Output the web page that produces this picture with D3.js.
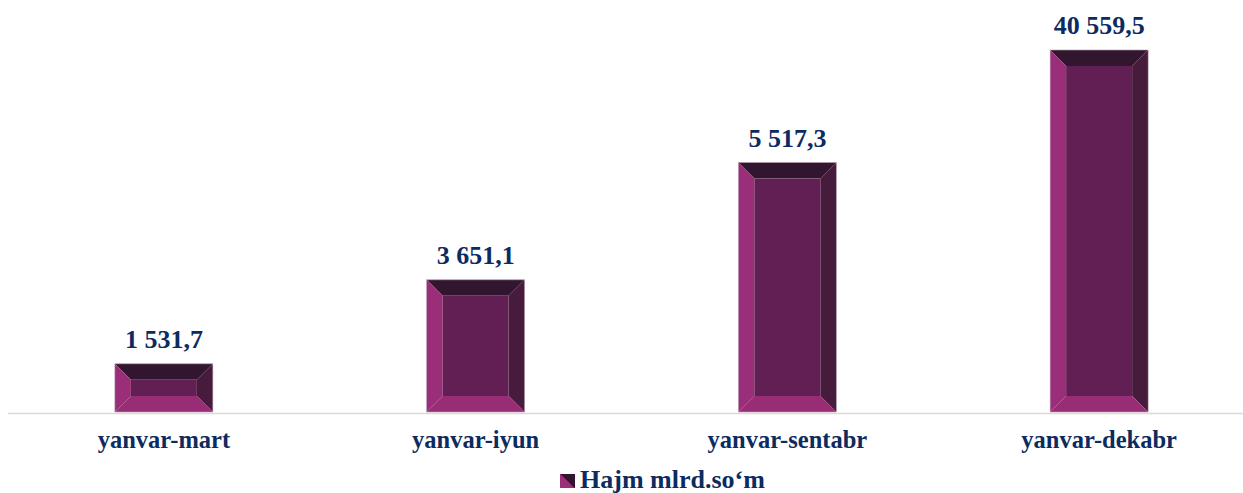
<!DOCTYPE html>
<html>
<head>
<meta charset="utf-8">
<script src="https://cdn.jsdelivr.net/npm/d3@7"></script>
<style>
  body { margin: 0; background: #fff; }
  svg { display: block; }
</style>
</head>
<body>
<svg id="chart"></svg>
<script>
'use strict';

// periods on the x axis
var categories = ['yanvar-mart', 'yanvar-iyun', 'yanvar-sentabr', 'yanvar-dekabr'];
// printed data labels
var valueLabels = ['1 531,7', '3 651,1', '5 517,3', '40 559,5'];
// bar heights as drawn in the source (% of the tallest bar, bars are not to scale with labels)
var barLevels = [13.3, 36.5, 68.9, 100];
var seriesName = 'Hajm mlrd.so‘m';

var width = 1243;
var height = 493;
var baseY = 412;
var topY = 50;
var bevel = 16;
var font = '"Liberation Serif", "Times New Roman", serif';
var ink = '#0c2b5f';

var colors = {
  left: '#9b2e78',
  top: '#321630',
  right: '#461b3b',
  bottom: '#982d76',
  face: '#621f53'
};

var svg = d3.select('#chart')
  .attr('width', width)
  .attr('height', height);

var x = d3.scaleBand()
  .domain(categories)
  .range([8, 1255])
  .paddingInner(0)
  .paddingOuter(0);

var y = d3.scaleLinear()
  .domain([0, 100])
  .range([baseY, topY]);

var barW = 98;

// axis line
svg.append('line')
  .attr('x1', 8)
  .attr('x2', width)
  .attr('y1', baseY + 1.5)
  .attr('y2', baseY + 1.5)
  .attr('stroke', '#d9d9d9')
  .attr('stroke-width', 1.5);

var bars = svg.selectAll('g.bar')
  .data(categories)
  .enter().append('g')
  .attr('class', 'bar');

bars.each(function(cat, i) {
  var g = d3.select(this);
  var x0 = x(cat) + x.bandwidth() / 2 - barW / 2;
  var x1 = x0 + barW;
  var y0 = y(barLevels[i]);
  var y1 = y(0);
  var b = Math.min(bevel, (y1 - y0) / 2 - 1);

  function poly(pts, fill) {
    g.append('polygon')
      .attr('points', pts.map(function(p) { return p.join(','); }).join(' '))
      .attr('fill', fill);
  }

  poly([[x0, y0], [x1, y0], [x1 - b, y0 + b], [x0 + b, y0 + b]], colors.top);
  poly([[x0, y0], [x0 + b, y0 + b], [x0 + b, y1 - b], [x0, y1]], colors.left);
  poly([[x1, y0], [x1, y1], [x1 - b, y1 - b], [x1 - b, y0 + b]], colors.right);
  poly([[x0, y1], [x0 + b, y1 - b], [x1 - b, y1 - b], [x1, y1]], colors.bottom);
  g.append('rect')
    .attr('x', x0 + b)
    .attr('y', y0 + b)
    .attr('width', barW - 2 * b)
    .attr('height', y1 - y0 - 2 * b)
    .attr('fill', colors.face);
  g.append('rect')
    .attr('x', x0)
    .attr('y', y0)
    .attr('width', barW)
    .attr('height', y1 - y0)
    .attr('fill', 'none')
    .attr('stroke', '#b89cb4')
    .attr('stroke-width', 0.6);

  g.append('text')
    .attr('x', x0 + barW / 2)
    .attr('y', y0 - 16)
    .attr('text-anchor', 'middle')
    .attr('font-family', font)
    .attr('font-weight', 'bold')
    .attr('fill', ink)
    .attr('font-size', 26)
    .text(valueLabels[i]);
});

// category labels
svg.selectAll('text.cat')
  .data(categories)
  .enter().append('text')
  .attr('class', 'cat')
  .attr('x', function(d) { return x(d) + x.bandwidth() / 2; })
  .attr('y', 448)
  .attr('text-anchor', 'middle')
  .attr('font-family', font)
  .attr('font-weight', 'bold')
  .attr('fill', ink)
  .attr('font-size', 24.5)
  .text(function(d) { return d; });

// legend
var grad = svg.append('defs').append('linearGradient')
  .attr('id', 'lg')
  .attr('x1', '0').attr('y1', '1').attr('x2', '1').attr('y2', '0');
grad.append('stop').attr('offset', '0.5').attr('stop-color', colors.left);
grad.append('stop').attr('offset', '0.5').attr('stop-color', colors.top);

var legend = svg.append('g').attr('transform', 'translate(560,474)');
legend.append('rect')
  .attr('width', 15)
  .attr('height', 14)
  .attr('fill', 'url(#lg)');
legend.append('text')
  .attr('x', 20)
  .attr('y', 14)
  .attr('font-family', font)
  .attr('font-weight', 'bold')
  .attr('fill', ink)
  .attr('font-size', 26)
  .text(seriesName);
</script>
</body>
</html>
